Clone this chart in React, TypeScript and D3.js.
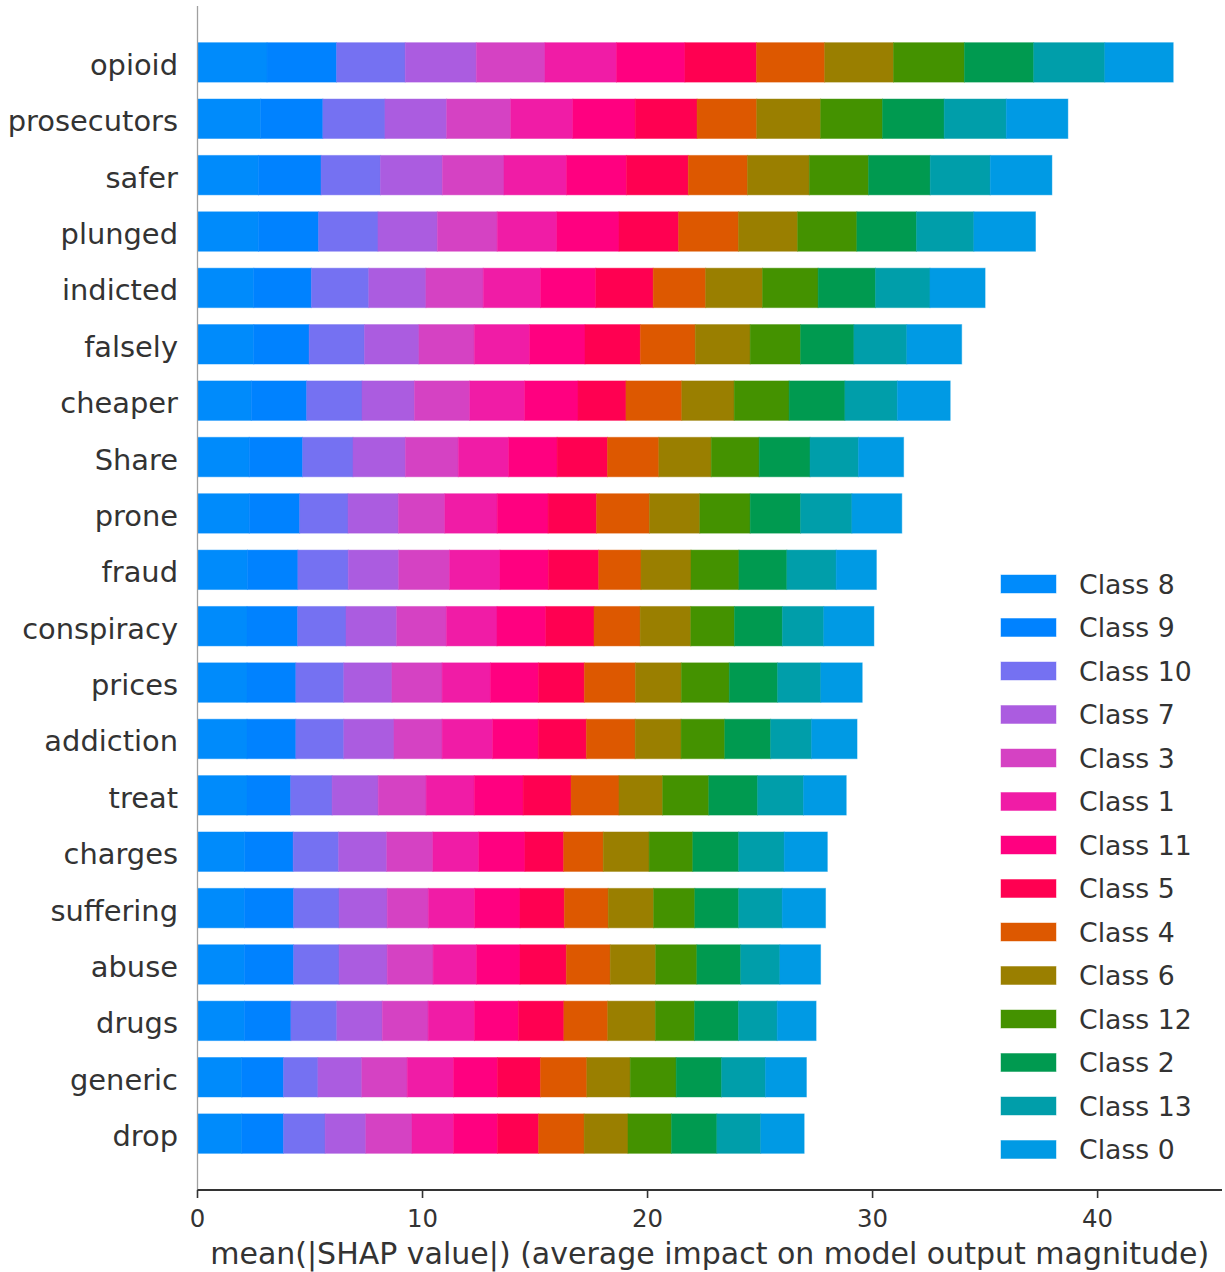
import React from "react";
import * as d3 from "d3";

// Top features, ordered from most to least important
const features = [
  "opioid", "prosecutors", "safer", "plunged", "indicted", "falsely", "cheaper",
  "Share", "prone", "fraud", "conspiracy", "prices", "addiction", "treat",
  "charges", "suffering", "abuse", "drugs", "generic", "drop",
];

// Class labels in stacking order (left to right), with their bar colours
const classNames = [
  "Class 8", "Class 9", "Class 10", "Class 7", "Class 3", "Class 1", "Class 11",
  "Class 5", "Class 4", "Class 6", "Class 12", "Class 2", "Class 13", "Class 0",
];
const classColors = [
  "#008bfb", "#0082ff", "#7571f2", "#ab5ce0", "#d542c3", "#f01ca6", "#ff0080",
  "#ff0051", "#dd5800", "#9a7f00", "#449200", "#009a50", "#009eaa", "#009ae4",
];

// mean(|SHAP value|) per class, one entry per feature (same order as `features`)
const class8 = [3.09, 2.81, 2.71, 2.71, 2.50, 2.50, 2.39, 2.30, 2.30, 2.22, 2.20, 2.20, 2.20, 2.20, 2.10, 2.09, 2.09, 2.09, 1.97, 1.97];
const class9 = [3.09, 2.76, 2.78, 2.67, 2.56, 2.46, 2.46, 2.37, 2.24, 2.24, 2.25, 2.17, 2.17, 1.94, 2.15, 2.18, 2.18, 2.06, 1.85, 1.85];
const class10 = [3.05, 2.76, 2.64, 2.64, 2.55, 2.46, 2.46, 2.24, 2.15, 2.24, 2.15, 2.13, 2.13, 1.84, 2.02, 2.02, 2.02, 2.04, 1.53, 1.85];
const class7 = [3.16, 2.74, 2.75, 2.64, 2.54, 2.42, 2.33, 2.33, 2.24, 2.24, 2.25, 2.14, 2.23, 2.05, 2.14, 2.14, 2.14, 2.02, 1.95, 1.81];
const class3 = [3.05, 2.85, 2.74, 2.66, 2.55, 2.46, 2.46, 2.35, 2.06, 2.26, 2.21, 2.23, 2.14, 2.13, 2.05, 1.83, 2.04, 2.04, 2.02, 2.05];
const class1 = [3.18, 2.76, 2.78, 2.65, 2.55, 2.46, 2.44, 2.24, 2.33, 2.24, 2.25, 2.15, 2.25, 2.14, 2.04, 2.06, 1.93, 2.06, 2.06, 1.85];
const class11 = [3.04, 2.77, 2.66, 2.76, 2.45, 2.46, 2.37, 2.15, 2.26, 2.15, 2.17, 2.13, 2.02, 2.17, 2.05, 2.01, 1.93, 1.95, 1.95, 1.95];
const class5 = [3.18, 2.75, 2.75, 2.65, 2.55, 2.46, 2.13, 2.24, 2.15, 2.24, 2.14, 2.04, 2.14, 2.13, 1.72, 1.97, 2.06, 2.02, 1.91, 1.83];
const class4 = [3.03, 2.65, 2.63, 2.66, 2.33, 2.44, 2.48, 2.28, 2.35, 1.88, 2.05, 2.27, 2.17, 2.13, 1.76, 1.95, 1.95, 1.95, 2.06, 2.02];
const class6 = [3.06, 2.84, 2.75, 2.63, 2.53, 2.44, 2.33, 2.33, 2.24, 2.22, 2.25, 2.04, 2.04, 1.94, 2.04, 2.02, 2.02, 2.12, 1.93, 1.95];
const class12 = [3.15, 2.75, 2.63, 2.63, 2.47, 2.24, 2.44, 2.13, 2.24, 2.13, 1.94, 2.13, 1.94, 2.05, 1.94, 1.83, 1.83, 1.74, 2.04, 1.93];
const class2 = [3.08, 2.74, 2.74, 2.65, 2.55, 2.37, 2.48, 2.26, 2.24, 2.13, 2.13, 2.15, 2.04, 2.17, 2.04, 1.95, 1.95, 1.95, 2.02, 2.02];
const class13 = [3.16, 2.76, 2.67, 2.55, 2.42, 2.35, 2.33, 2.15, 2.28, 2.19, 1.84, 1.92, 1.82, 2.04, 2.02, 1.93, 1.74, 1.72, 1.95, 1.95];
const class0 = [3.04, 2.74, 2.74, 2.74, 2.45, 2.44, 2.35, 2.01, 2.22, 1.79, 2.23, 1.84, 2.02, 1.90, 1.92, 1.93, 1.81, 1.73, 1.82, 1.93];

const classValues = [
  class8, class9, class10, class7, class3, class1, class11,
  class5, class4, class6, class12, class2, class13, class0,
];

const xTicks = [0, 10, 20, 30, 40];
const xLabel = "mean(|SHAP value|) (average impact on model output magnitude)";

const W = 1225;
const H = 1272;
const plot = { left: 197.5, right: 1222, top: 6, bottom: 1190 };
const FONT = "'DejaVu Sans', sans-serif";
const TEXT = "#333333";

export default function App() {
  // stacked table: one row per feature, one key per class
  const table = features.map((f, i) => {
    const row: Record<string, number | string> = { feature: f };
    classNames.forEach((c, j) => (row[c] = classValues[j][i]));
    return row;
  });
  const stacked = d3.stack<any>().keys(classNames)(table);

  const maxTotal = d3.max(table, (r) => d3.sum(classNames, (c) => r[c] as number)) as number;
  const x = d3.scaleLinear().domain([0, maxTotal * 1.05]).range([plot.left, plot.right]);
  // matplotlib-style y positions: top feature at n-1, bottom at 0, limits [-1, n]
  const n = features.length;
  const y = d3.scaleLinear().domain([-1, n]).range([plot.bottom, plot.top]);
  const barH = y(0) - y(0.7);
  const yPos = (i: number) => y(n - 1 - i);

  const legendX = 1001;
  const legendY0 = 584;
  const legendStep = 43.5;

  return (
    <svg
      width={W}
      height={H}
      style={{ position: "absolute", left: 0, top: 0, background: "#fff" }}
      fontFamily={FONT}
    >
      <rect width={W} height={H} fill="#fff" />
      {/* stacked bars */}
      {stacked.map((layer, j) => (
        <g key={classNames[j]} fill={classColors[j]}>
          {layer.map((d, i) => (
            <rect
              key={i}
              x={x(d[0])}
              y={yPos(i) - barH / 2}
              width={x(d[1]) - x(d[0])}
              height={barH}
              stroke={classColors[j]}
              strokeOpacity={0.45}
              strokeWidth={1}
            />
          ))}
        </g>
      ))}

      {/* left spine */}
      <line x1={plot.left} x2={plot.left} y1={plot.top} y2={plot.bottom} stroke="#a0a0a0" strokeWidth={1.3} />
      {/* bottom axis */}
      <line x1={plot.left} x2={plot.right} y1={plot.bottom} y2={plot.bottom} stroke={TEXT} strokeWidth={1.8} />
      {xTicks.map((t) => (
        <g key={t}>
          <line x1={x(t)} x2={x(t)} y1={plot.bottom} y2={plot.bottom + 8} stroke={TEXT} strokeWidth={1.6} />
          <text x={x(t)} y={plot.bottom + 28} textAnchor="middle" dominantBaseline="central" fontSize={24.4} fill={TEXT}>
            {t}
          </text>
        </g>
      ))}
      <text
        x={(plot.left + plot.right) / 2}
        y={1253}
        textAnchor="middle"
        dominantBaseline="central"
        fontSize={30}
        fill={TEXT}
      >
        {xLabel}
      </text>

      {/* feature labels */}
      {features.map((f, i) => (
        <text key={f} x={178} y={yPos(i) + 2.5} textAnchor="end" dominantBaseline="central" fontSize={28.9} fill={TEXT}>
          {f}
        </text>
      ))}

      {/* legend */}
      {classNames.map((c, j) => (
        <g key={c} transform={`translate(${legendX},${legendY0 + j * legendStep})`}>
          <rect x={0} y={-9} width={55} height={18} fill={classColors[j]} stroke={classColors[j]} strokeOpacity={0.45} strokeWidth={1} />
          <text x={78} y={0} dominantBaseline="central" fontSize={26.7} fill={TEXT}>
            {c}
          </text>
        </g>
      ))}
    </svg>
  );
}
